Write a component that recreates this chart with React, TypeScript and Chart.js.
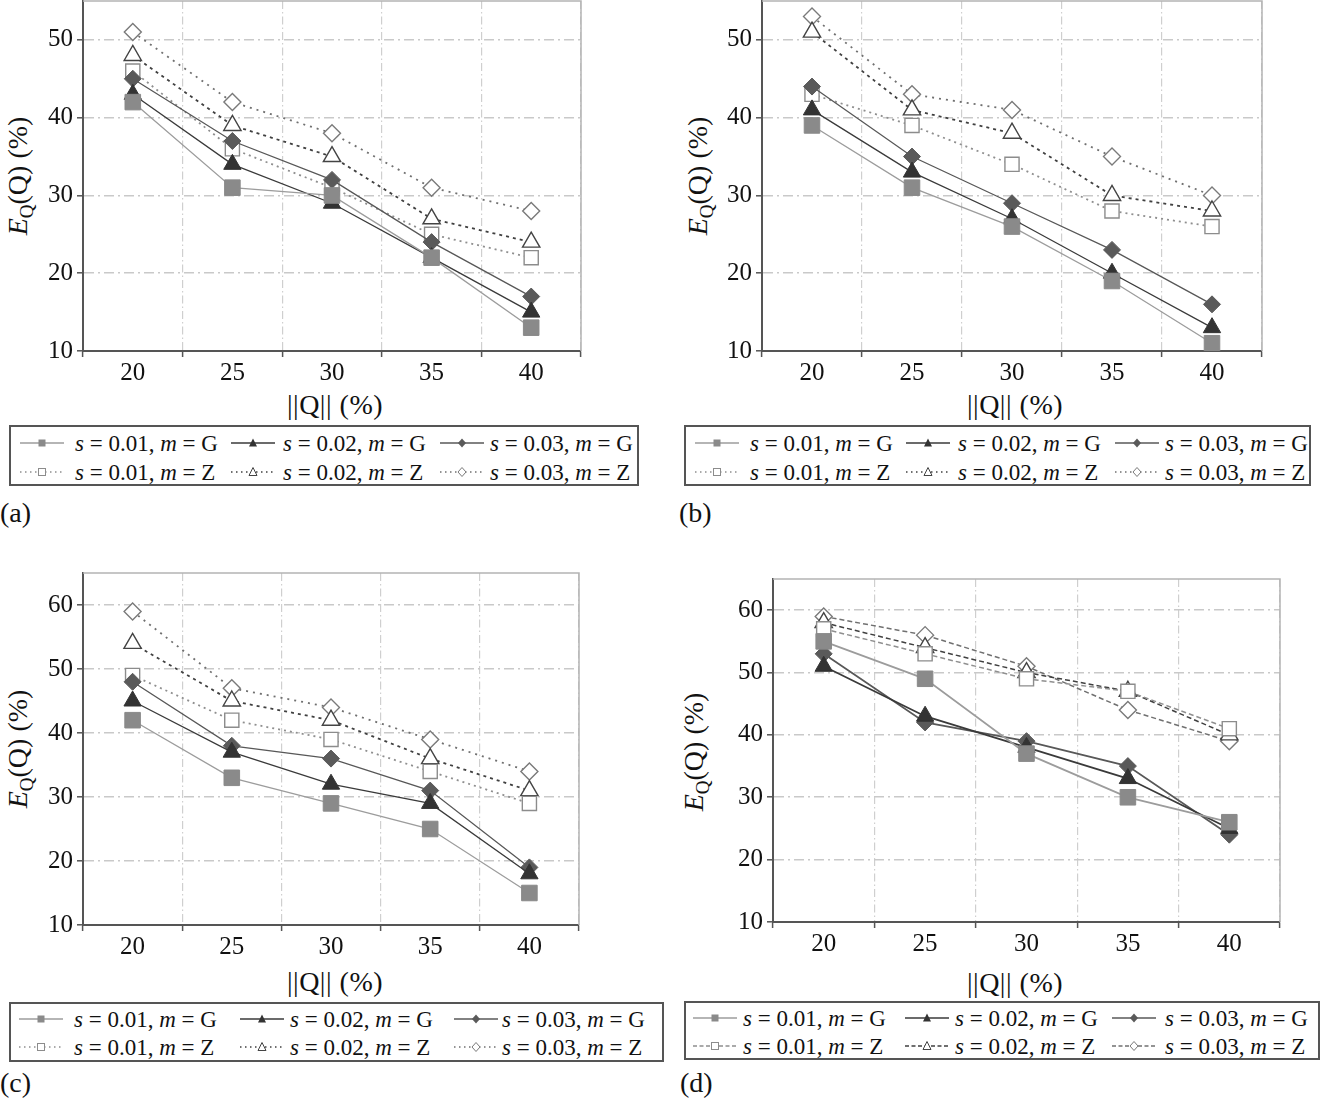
import React, { useEffect, useRef } from "react";
import { Chart, registerables } from "chart.js";
Chart.register(...registerables);

// ---------- data ----------
const categories = ["20", "25", "30", "35", "40"];

// panel (a)
const aG1 = [42, 31, 30, 22, 13];
const aG2 = [43, 34, 29, 22, 15];
const aG3 = [45, 37, 32, 24, 17];
const aZ1 = [46, 36, 31, 25, 22];
const aZ2 = [48, 39, 35, 27, 24];
const aZ3 = [51, 42, 38, 31, 28];

// panel (b)
const bG1 = [39, 31, 26, 19, 11];
const bG2 = [41, 33, 27, 20, 13];
const bG3 = [44, 35, 29, 23, 16];
const bZ1 = [43, 39, 34, 28, 26];
const bZ2 = [51, 41, 38, 30, 28];
const bZ3 = [53, 43, 41, 35, 30];

// panel (c)
const cG1 = [42, 33, 29, 25, 15];
const cG2 = [45, 37, 32, 29, 18];
const cG3 = [48, 38, 36, 31, 19];
const cZ1 = [49, 42, 39, 34, 29];
const cZ2 = [54, 45, 42, 36, 31];
const cZ3 = [59, 47, 44, 39, 34];

// panel (d)
const dG1 = [55, 49, 37, 30, 26];
const dG2 = [51, 43, 38, 33, 25];
const dG3 = [53, 42, 39, 35, 24];
const dZ1 = [57, 53, 49, 47, 41];
const dZ2 = [58, 54, 50, 47, 40];
const dZ3 = [59, 56, 51, 44, 39];

const yTicksAB = [10, 20, 30, 40, 50];
const yTicksCD = [10, 20, 30, 40, 50, 60];
const sValues = ["0.01", "0.02", "0.03"];
const mValues = ["G", "Z"];
const panelLetters = ["(a)", "(b)", "(c)", "(d)"];

// ---------- styles ----------
const FONT = "'Liberation Serif', 'Times New Roman', serif";
type St = { ps: string; r: number; fill: string; stroke: string; line: string; lw: number };
const seriesStyles: St[] = [
  { ps: "rect", r: 11, fill: "#8a8a8a", stroke: "#8a8a8a", line: "#9c9c9c", lw: 1.3 },
  { ps: "triangle", r: 10, fill: "#333333", stroke: "#333333", line: "#3a3a3a", lw: 1.3 },
  { ps: "rectRot", r: 8.5, fill: "#5a5a5a", stroke: "#5a5a5a", line: "#585858", lw: 1.3 },
  { ps: "rect", r: 10, fill: "#ffffff", stroke: "#8c8c8c", line: "#8f8f8f", lw: 1.6 },
  { ps: "triangle", r: 10, fill: "#ffffff", stroke: "#444444", line: "#404040", lw: 1.6 },
  { ps: "rectRot", r: 8.5, fill: "#ffffff", stroke: "#7a7a7a", line: "#707070", lw: 1.6 },
];
const dotDashes = [[2, 4], [3, 4], [2, 5]];
const dashDashes = [[5, 3], [5, 3], [5, 3]];

const YW = 60, PT = 12, PR = 10, XH = 40;

type PanelDef = {
  series: number[][];
  yMax: number;
  yTicks: number[];
  L: number; T: number; R: number; B: number;
  zDash: "dot" | "dash";
  yTitle: [number, number];
  xTitle: [number, number];
  letter: [number, number];
  box: [number, number, number, number];
  mx: number[];
  tx: number[];
  rows: number[];
  gw: number;
};

const panels: PanelDef[] = [
  {
    series: [aG1, aG2, aG3, aZ1, aZ2, aZ3], yMax: 55, yTicks: yTicksAB,
    L: 83, T: 1, R: 583, B: 351, zDash: "dot",
    yTitle: [18, 176], xTitle: [335, 405], letter: [0, 513],
    box: [9, 425, 630, 61], mx: [42, 253, 462], tx: [75, 283, 490], rows: [443, 472], gw: 1.3,
  },
  {
    series: [bG1, bG2, bG3, bZ1, bZ2, bZ3], yMax: 55, yTicks: yTicksAB,
    L: 762, T: 1, R: 1264, B: 351, zDash: "dot",
    yTitle: [698, 176], xTitle: [1015, 405], letter: [679, 513],
    box: [684, 425, 627, 61], mx: [717, 928, 1137], tx: [750, 958, 1165], rows: [443, 472], gw: 1.3,
  },
  {
    series: [cG1, cG2, cG3, cZ1, cZ2, cZ3], yMax: 65, yTicks: yTicksCD,
    L: 83, T: 573, R: 581, B: 925, zDash: "dot",
    yTitle: [18, 749], xTitle: [335, 982], letter: [0, 1083],
    box: [9, 1002, 655, 60], mx: [41, 262, 476], tx: [74, 290, 502], rows: [1019, 1047], gw: 1.3,
  },
  {
    series: [dG1, dG2, dG3, dZ1, dZ2, dZ3], yMax: 65, yTicks: yTicksCD,
    L: 773, T: 579, R: 1282, B: 922, zDash: "dash",
    yTitle: [694, 752], xTitle: [1015, 983], letter: [680, 1083],
    box: [684, 1001, 636, 59], mx: [715, 927, 1134], tx: [743, 955, 1165], rows: [1018, 1046], gw: 1.8,
  },
];

const framePlugin = {
  id: "frame",
  beforeDatasetsDraw(chart: any) {
    const { ctx, chartArea: a } = chart;
    ctx.save();
    ctx.strokeStyle = "#b4b4b4";
    ctx.lineWidth = 1.5;
    ctx.beginPath();
    ctx.moveTo(a.left, a.top);
    ctx.lineTo(a.right, a.top);
    ctx.lineTo(a.right, a.bottom);
    ctx.stroke();
    ctx.restore();
  },
};

function PanelChart({ p }: { p: PanelDef }) {
  const ref = useRef<HTMLCanvasElement | null>(null);
  const w = YW + (p.R - p.L) + PR;
  const h = PT + (p.B - p.T) + XH;
  useEffect(() => {
    if (!ref.current) return;
    const dashes = p.zDash === "dot" ? dotDashes : dashDashes;
    const datasets = p.series.map((vals, i) => {
      const st = seriesStyles[i];
      const isZ = i >= 3;
      return {
        label: `s = ${sValues[i % 3]}, m = ${mValues[isZ ? 1 : 0]}`,
        data: vals,
        borderColor: st.line,
        borderWidth: isZ ? (p.zDash === "dash" ? 1.5 : 1.8) : p.gw,
        borderDash: isZ ? dashes[i - 3] : [],
        pointStyle: st.ps,
        pointRadius: st.r,
        pointBackgroundColor: st.fill,
        pointBorderColor: st.stroke,
        pointBorderWidth: isZ ? 1.4 : 1,
        tension: 0,
        fill: false,
      };
    });
    const nCat = categories.length;
    const chart = new Chart(ref.current, {
      type: "line",
      data: { labels: categories, datasets },
      options: {
        animation: false,
        responsive: false,
        maintainAspectRatio: false,
        layout: { padding: { top: PT, right: PR, left: 0, bottom: 0 } },
        plugins: { legend: { display: false }, tooltip: { enabled: false } },
        scales: {
          x: {
            type: "category",
            offset: true,
            grid: {
              offset: true,
              color: (c: any) => (c.index === 0 || c.index === nCat ? "rgba(0,0,0,0)" : "#cfcfcf"),
              lineWidth: 1.2,
              tickLength: 6,
              tickColor: "#555",
              tickWidth: 1.5,
            },
            border: { color: "#555", width: 2, dash: [8, 3, 1.5, 3] },
            ticks: { font: { family: FONT, size: 25 }, color: "#111", padding: 1, maxRotation: 0, autoSkip: false },
            afterFit(s: any) {
              s.height = XH;
              s.paddingLeft = 0;
              s.paddingRight = 0;
            },
          },
          y: {
            min: 10,
            max: p.yMax,
            afterBuildTicks(s: any) {
              s.ticks = p.yTicks.map((v) => ({ value: v }));
            },
            grid: {
              color: (c: any) => (c.index === 0 ? "rgba(0,0,0,0)" : "#c9c9c9"),
              lineWidth: 1.6,
              tickLength: 6,
              tickColor: "#555",
              tickWidth: 1.5,
            },
            border: { color: "#555", width: 2, dash: [10, 4, 2, 4] },
            ticks: { font: { family: FONT, size: 25 }, color: "#111", padding: 4 },
            afterFit(s: any) {
              s.width = YW;
              s.paddingTop = 0;
              s.paddingBottom = 0;
            },
          },
        },
      } as any,
      plugins: [framePlugin],
    });
    return () => chart.destroy();
  }, []);
  return (
    <canvas
      ref={ref}
      width={w}
      height={h}
      style={{ position: "absolute", left: p.L - YW, top: p.T - PT, width: w, height: h }}
    />
  );
}

function LegendIcon({ i, dash }: { i: number; dash: "dot" | "dash" }) {
  const st = seriesStyles[i];
  const isZ = i >= 3;
  const da = isZ ? (dash === "dot" ? "1.5,3.5" : "4,2.5") : undefined;
  let marker: any;
  if (st.ps === "rect") {
    marker = <rect x={18.5} y={4.5} width={7} height={7} fill={st.fill} stroke={st.stroke} strokeWidth={isZ ? 1 : 0} />;
  } else if (st.ps === "triangle") {
    marker = <polygon points="22,3.5 26,11.5 18,11.5" fill={st.fill} stroke={st.stroke} strokeWidth={isZ ? 1 : 0} />;
  } else {
    marker = <polygon points="22,3.5 26,8 22,12.5 18,8" fill={st.fill} stroke={st.stroke} strokeWidth={isZ ? 1 : 0} />;
  }
  return (
    <svg width={44} height={16} style={{ display: "block" }}>
      <line x1={0} y1={8} x2={44} y2={8} stroke={st.line} strokeWidth={1.3} strokeDasharray={da} />
      {marker}
    </svg>
  );
}

function PanelDecor({ p, idx }: { p: PanelDef; idx: number }) {
  const items: any[] = [];
  for (let r = 0; r < 2; r++) {
    for (let c = 0; c < 3; c++) {
      const i = r * 3 + c;
      items.push(
        <div key={"ic" + i} style={{ position: "absolute", left: p.mx[c] - 22, top: p.rows[r] - 8 }}>
          <LegendIcon i={i} dash={p.zDash} />
        </div>
      );
      items.push(
        <div
          key={"tx" + i}
          style={{
            position: "absolute",
            left: p.tx[c],
            top: p.rows[r],
            transform: "translateY(-50%)",
            font: `23px ${FONT}`,
            lineHeight: 1,
            whiteSpace: "nowrap",
            color: "#111",
          }}
        >
          <i>s</i> = {sValues[c]}, <i>m</i> = {mValues[r]}
        </div>
      );
    }
  }
  return (
    <>
      <div
        style={{
          position: "absolute",
          left: p.yTitle[0],
          top: p.yTitle[1],
          transform: "translate(-50%, -50%) rotate(-90deg)",
          font: `28px ${FONT}`,
          whiteSpace: "nowrap",
          color: "#111",
          lineHeight: 1,
        }}
      >
        <i>E</i>
        <span style={{ fontSize: "0.68em", position: "relative", top: "0.3em" }}>Q</span>(Q) (%)
      </div>
      <div
        style={{
          position: "absolute",
          left: p.xTitle[0],
          top: p.xTitle[1],
          transform: "translate(-50%, -50%)",
          font: `28px ${FONT}`,
          whiteSpace: "nowrap",
          color: "#111",
          lineHeight: 1,
          letterSpacing: "0.5px",
        }}
      >
        ||Q|| (%)
      </div>
      <div
        style={{
          position: "absolute",
          left: p.box[0],
          top: p.box[1],
          width: p.box[2],
          height: p.box[3],
          border: "2px solid #555",
          boxSizing: "border-box",
          background: "#fff",
        }}
      />
      {items}
      <div
        style={{
          position: "absolute",
          left: p.letter[0],
          top: p.letter[1],
          transform: "translateY(-50%)",
          font: `28px ${FONT}`,
          color: "#111",
          lineHeight: 1,
        }}
      >
        {panelLetters[idx]}
      </div>
    </>
  );
}

export default function App() {
  return (
    <div
      style={{
        position: "absolute",
        left: 0,
        top: 0,
        width: 1331,
        height: 1112,
        background: "#fff",
        overflow: "hidden",
      }}
    >
      {panels.map((p, i) => (
        <PanelDecor key={"d" + i} p={p} idx={i} />
      ))}
      {panels.map((p, i) => (
        <PanelChart key={"c" + i} p={p} />
      ))}
    </div>
  );
}
